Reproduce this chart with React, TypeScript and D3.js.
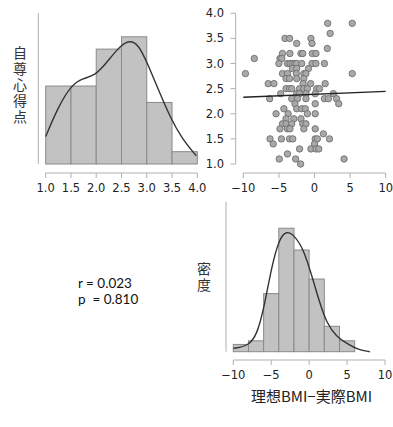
import React from 'react';
import { scaleLinear, line, curveBasis } from 'd3';

const width = 393;
const height = 427;

// self-esteem histogram (counts per 0.5 bin)
const seBins = [1.0, 1.5, 2.0, 2.5, 3.0, 3.5];
const seCounts = [19, 19, 28, 31, 15, 3];
const seTicks = [1.0, 1.5, 2.0, 2.5, 3.0, 3.5, 4.0];
const seDensX = [1.0, 1.25, 1.51, 1.74, 1.97, 2.2, 2.43, 2.63, 2.83, 3.03, 3.26, 3.46, 3.69, 3.98];
const seDensY = [6.7, 14.0, 19.3, 20.9, 21.5, 24.6, 28.2, 30.2, 29.4, 24.1, 17.2, 11.5, 6.3, 2.0];

// BMI difference histogram (counts per 2-unit bin)
const bmiBins = [-10, -8, -6, -4, -2, 0, 2, 4];
const bmiCounts = [2, 3, 16, 34, 28, 20, 7, 3];
const bmiTicks = [-10, -5, 0, 5, 10];
const bmiDensX = [-10, -8.0, -6.9, -5.96, -4.95, -3.93, -2.97, -2.0, -0.77, 0.33, 1.34, 2.31, 3.63, 4.95, 6.48, 8.0];
const bmiDensY = [0.9, 1.6, 4.6, 11.9, 23.4, 31.2, 33.3, 32.1, 28.4, 21.1, 13.8, 7.8, 4.1, 2.3, 0.5, 0];

// scatter: x = 理想BMI-実際BMI, y = 自尊心得点
const ptX = [1.85, 5.3, 2.2, -4.15, -3.5, -0.5, -2.5, -0.35, 1.8, -4.5, -3.45, -1.9, -1.65, -0.3, 0.2,
  -8.45, -4.85, -4.6, -5.0, -3.8, -3.45, -3.1, -2.75, -2.5, -1.8, -0.35, 0.2, 1.4, -3.1, -2.5, -0.85,
  -9.7, -4.5, -3.8, -2.55, -1.5, -1.2, 5.3, -4.0, -3.5, -2.5, -1.5, -6.5, -5.7, -1.6, -0.55, 1.5,
  -4.0, -3.5, -3.2, -2.1, -1.5, -1.0, 0.3, 0.7, -4.75, -2.5, -2.1, -1.2, 0.1, 2.65, -6.3, -3.2, -2.4,
  -1.2, 1.4, 1.95, 3.1, -2.75, 0.1, 3.4, -4.3, -2.5, -1.8, -1.3, -5.4, -3.7, -1.0, 0.1, -4.0, -2.9,
  -1.9, -4.5, -4.0, -3.2, -1.65, -1.2, -4.85, -3.8, -3.45, -1.5, 0.1, 1.25, -6.25, -4.65, -3.5, -3.05,
  0.1, 0.4, 2.1, -5.8, 0.0, -2.1, -0.5, 0.2, 0.6, -3.8, -4.95, -2.65, 4.15, -1.95];
const ptY = [3.8, 3.8, 3.6, 3.5, 3.5, 3.5, 3.4, 3.4, 3.3, 3.2, 3.2, 3.2, 3.2, 3.2, 3.2,
  3.1, 3.1, 3.1, 3.0, 3.0, 3.0, 3.0, 3.0, 3.0, 3.0, 3.0, 3.0, 3.0, 2.9, 2.9, 2.9,
  2.8, 2.8, 2.8, 2.8, 2.8, 2.8, 2.8, 2.7, 2.7, 2.7, 2.7, 2.6, 2.6, 2.6, 2.6, 2.6,
  2.5, 2.5, 2.5, 2.5, 2.5, 2.5, 2.5, 2.5, 2.4, 2.4, 2.4, 2.4, 2.4, 2.4, 2.3, 2.3, 2.3,
  2.3, 2.3, 2.3, 2.3, 2.2, 2.2, 2.2, 2.1, 2.1, 2.1, 2.1, 2.0, 2.0, 2.0, 2.0, 1.9, 1.9,
  1.9, 1.8, 1.8, 1.8, 1.8, 1.8, 1.7, 1.7, 1.7, 1.7, 1.7, 1.6, 1.5, 1.5, 1.5, 1.5,
  1.5, 1.5, 1.5, 1.4, 1.4, 1.3, 1.3, 1.3, 1.3, 1.2, 1.1, 1.1, 1.1, 1.0];
const scTicksY = [1.0, 1.5, 2.0, 2.5, 3.0, 3.5, 4.0];
const fitX = [-10, 10];
const fitY = [2.33, 2.445];

const statLines = ['r = 0.023', 'p  = 0.810'];

const tickFont = 'DejaVu Sans, sans-serif';
const cjkFont = '"Noto Sans CJK JP", sans-serif';
const axisCol = '#b0b0b0';
const barFill = '#c2c2c2';
const barStroke = '#8a8a8a';
const vertical = { writingMode: 'vertical-rl', textOrientation: 'upright', letterSpacing: '2px' } as React.CSSProperties;

export default function App() {
  // top-left histogram
  const sx = scaleLinear().domain([1, 4]).range([45.7, 197.3]);
  const sy = scaleLinear().domain([0, 36.8]).range([164, 13]);
  // scatter
  const px = scaleLinear().domain([-10, 10]).range([243.3, 385.7]);
  const py = scaleLinear().domain([1, 4]).range([164, 13.3]);
  // bottom-right histogram
  const bx = scaleLinear().domain([-10, 10]).range([233.3, 385]);
  const by = scaleLinear().domain([0, 41.3]).range([351.7, 201.7]);

  const seLine = line<number>().x((d, i) => sx(seDensX[i])).y(d => sy(d)).curve(curveBasis);
  const bmiLine = line<number>().x((d, i) => bx(bmiDensX[i])).y(d => by(d)).curve(curveBasis);

  return (
    <svg width={width} height={height} style={{ position: 'absolute', left: 0, top: 0, background: '#fff' }}>
      {/* top-left: 自尊心得点 histogram */}
      <line x1={38.3} x2={38.3} y1={13} y2={164} stroke={axisCol} />
      {seBins.map((b, i) => (
        <rect key={i} x={sx(b)} y={sy(seCounts[i])} width={sx(b + 0.5) - sx(b)}
          height={sy(0) - sy(seCounts[i])} fill={barFill} stroke={barStroke} strokeWidth={1} />
      ))}
      <path d={seLine(seDensY) || ''} fill="none" stroke="#333" strokeWidth={1.4} />
      <line x1={sx(1)} x2={sx(4)} y1={173} y2={173} stroke={axisCol} />
      {seTicks.map(t => (
        <g key={t}>
          <line x1={sx(t)} x2={sx(t)} y1={173} y2={178} stroke={axisCol} />
          <text x={sx(t)} y={192} textAnchor="middle" fontFamily={tickFont} fontSize={11.5} fill="#222">{t.toFixed(1)}</text>
        </g>
      ))}
      <text x={20} y={46} fontFamily={cjkFont} fontSize={14} fill="#333" style={vertical}>自尊心得点</text>

      {/* top-right: scatter */}
      <line x1={235.7} x2={235.7} y1={py(4)} y2={py(1)} stroke={axisCol} />
      {scTicksY.map(t => (
        <g key={t}>
          <line x1={230.5} x2={235.7} y1={py(t)} y2={py(t)} stroke={axisCol} />
          <text x={224} y={py(t) + 4} textAnchor="end" fontFamily={tickFont} fontSize={11.5} fill="#222">{t.toFixed(1)}</text>
        </g>
      ))}
      <line x1={px(-10)} x2={px(10)} y1={173} y2={173} stroke={axisCol} />
      {bmiTicks.map(t => (
        <g key={t}>
          <line x1={px(t)} x2={px(t)} y1={173} y2={178} stroke={axisCol} />
          <text x={px(t)} y={192} textAnchor="middle" fontFamily={tickFont} fontSize={11.5} fill="#222">{t < 0 ? '\u2212' + Math.abs(t) : t}</text>
        </g>
      ))}
      {ptX.map((x, i) => (
        <circle key={i} cx={px(x)} cy={py(ptY[i])} r={3.2} fill="#a9a9a9" stroke="#6e6e6e" strokeWidth={0.9} />
      ))}
      <line x1={px(fitX[0])} x2={px(fitX[1])} y1={py(fitY[0])} y2={py(fitY[1])} stroke="#222" strokeWidth={1.4} />

      {/* bottom-left: stats */}
      {statLines.map((s, i) => (
        <text key={i} x={78} y={287.5 + i * 16.3} fontFamily="Lato, sans-serif" fontSize={13.5} fill="#111" style={{ whiteSpace: 'pre' }}>{s}</text>
      ))}

      {/* bottom-right: BMI difference histogram */}
      <line x1={226} x2={226} y1={201.7} y2={351.7} stroke={axisCol} />
      {bmiBins.map((b, i) => (
        <rect key={i} x={bx(b)} y={by(bmiCounts[i])} width={bx(b + 2) - bx(b)}
          height={by(0) - by(bmiCounts[i])} fill={barFill} stroke={barStroke} strokeWidth={1} />
      ))}
      <path d={bmiLine(bmiDensY) || ''} fill="none" stroke="#333" strokeWidth={1.4} />
      <line x1={bx(-10)} x2={bx(10)} y1={360} y2={360} stroke={axisCol} />
      {bmiTicks.map(t => (
        <g key={t}>
          <line x1={bx(t)} x2={bx(t)} y1={360} y2={365} stroke={axisCol} />
          <text x={bx(t)} y={379} textAnchor="middle" fontFamily={tickFont} fontSize={11.5} fill="#222">{t < 0 ? '\u2212' + Math.abs(t) : t}</text>
        </g>
      ))}
      <text x={204} y={262} fontFamily={cjkFont} fontSize={14} fill="#333" style={vertical}>密度</text>
      <text x={311.5} y={402} textAnchor="middle" fontFamily={cjkFont} fontSize={15} fill="#222">理想BMI−実際BMI</text>
    </svg>
  );
}
